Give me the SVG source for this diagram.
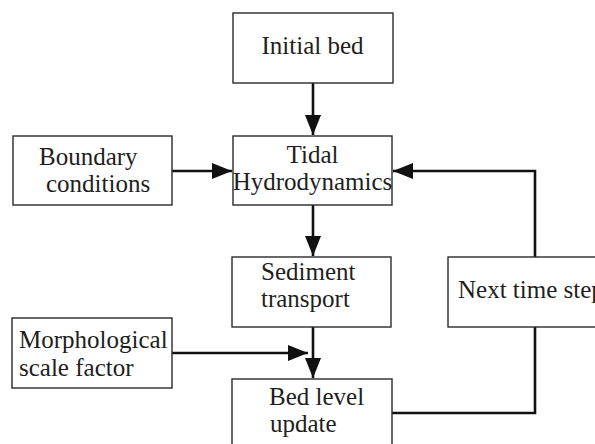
<svg xmlns="http://www.w3.org/2000/svg" width="595" height="444" viewBox="0 0 595 444">
<style>
.box{fill:#fff;stroke:#2a2a2a;stroke-width:1.4}
.t{font-family:"Liberation Serif","Times New Roman",serif;font-size:25px;fill:#1e1e1e}
.c{text-anchor:middle}
.ln{fill:none;stroke:#111;stroke-width:2.6}
</style>
<defs>
<marker id="ah" viewBox="0 0 20 16" refX="20" refY="8" markerWidth="20" markerHeight="16" markerUnits="userSpaceOnUse" orient="auto">
<path d="M0,0 L20,8 L0,16 z" fill="#111"/>
</marker>
</defs>
<rect width="595" height="444" fill="#fff"/>
<g id="connectors">
<line class="ln" x1="313" y1="83" x2="313" y2="135" marker-end="url(#ah)"/>
<line class="ln" x1="172" y1="171" x2="232" y2="171" marker-end="url(#ah)"/>
<line class="ln" x1="313" y1="205" x2="313" y2="256" marker-end="url(#ah)"/>
<line class="ln" x1="313" y1="327" x2="313" y2="378" marker-end="url(#ah)"/>
<line class="ln" x1="172" y1="353" x2="308" y2="353" marker-end="url(#ah)"/>
<polyline class="ln" points="535,257 535,171 393,171" marker-end="url(#ah)"/>
<polyline class="ln" points="535,327 535,413 392,413"/>
</g>
<g id="initial-bed">
<rect class="box" x="233" y="13" width="160" height="70"/>
<text class="t c" x="312.5" y="54">Initial bed</text>
</g>
<g id="tidal-hydrodynamics">
<rect class="box" x="233" y="136" width="159" height="69"/>
<text class="t c" x="312.5" y="163">Tidal</text>
<text class="t c" x="312.5" y="190">Hydrodynamics</text>
</g>
<g id="boundary-conditions">
<rect class="box" x="13" y="136" width="159" height="69"/>
<text class="t" x="39" y="165">Boundary</text>
<text class="t" x="46" y="192">conditions</text>
</g>
<g id="sediment-transport">
<rect class="box" x="232" y="257" width="159" height="70"/>
<text class="t" x="261" y="280">Sediment</text>
<text class="t" x="261" y="307">transport</text>
</g>
<g id="next-time-step">
<rect class="box" x="448" y="257" width="160" height="70"/>
<text class="t" x="458" y="298">Next time step</text>
</g>
<g id="morphological-scale-factor">
<rect class="box" x="12" y="318" width="160" height="70"/>
<text class="t" x="19" y="348">Morphological</text>
<text class="t" x="19" y="376">scale factor</text>
</g>
<g id="bed-level-update">
<rect class="box" x="232" y="379" width="160" height="80"/>
<text class="t" x="269" y="405">Bed level</text>
<text class="t" x="270" y="432">update</text>
</g>
</svg>
